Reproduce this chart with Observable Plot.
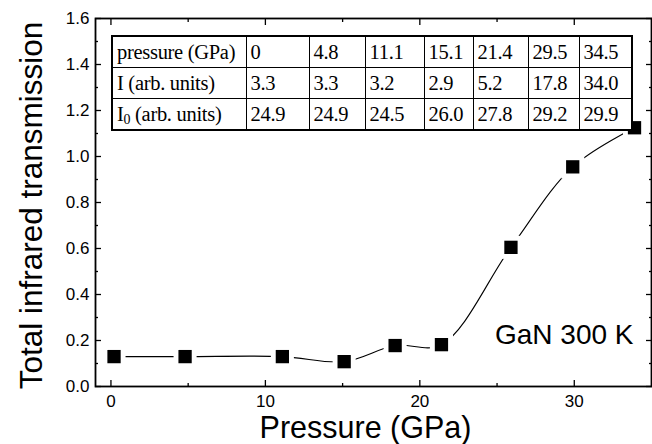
<!DOCTYPE html>
<html><head><meta charset="utf-8">
<script src="https://cdn.jsdelivr.net/npm/d3@7"></script>
<script src="https://cdn.jsdelivr.net/npm/@observablehq/plot@0.6"></script>
<style>
body{margin:0;background:#fff;}
#wrap{position:relative;width:652px;height:444px;overflow:hidden;}
#tbl{position:absolute;left:111px;top:35px;border-collapse:collapse;table-layout:fixed;width:522px;
  font-family:"Liberation Serif","Times New Roman",serif;font-size:20.5px;color:#000;background:#fff;border:2px solid #000;letter-spacing:-0.3px;}
#tbl td{border:1px solid #000;height:28px;padding:0 0 0 4px;line-height:30px;white-space:nowrap;overflow:hidden;}
#tbl sub{font-size:14px;vertical-align:-3px;line-height:0;}
</style></head><body><div id="wrap"></div>
<script>
// data
const pressure = [0.2, 4.8, 11.1, 15.1, 18.4, 21.4, 25.9, 29.9, 33.9];
const transmission = [0.13, 0.13, 0.13, 0.108, 0.178, 0.182, 0.605, 0.955, 1.125];
// inset table
const rowLabels = ["pressure (GPa)", "I (arb. units)", "I<sub>0</sub> (arb. units)"];
const tablePressure = ["0", "4.8", "11.1", "15.1", "21.4", "29.5", "34.5"];
const tableI = ["3.3", "3.3", "3.2", "2.9", "5.2", "17.8", "34.0"];
const tableI0 = ["24.9", "24.9", "24.5", "26.0", "27.8", "29.2", "29.9"];
// ticks
const xMajor = [0, 10, 20, 30];
const xMinor = [5, 15, 25];
const yMajor = [0, 0.2, 0.4, 0.6, 0.8, 1.0, 1.2, 1.4, 1.6];
const yMinor = [0.1, 0.3, 0.5, 0.7, 0.9, 1.1, 1.3, 1.5];
const xTitle = "Pressure (GPa)";
const yTitle = "Total infrared transmission";
const annotation = "GaN 300 K";

const points = pressure.map((p, i) => ({p, t: transmission[i]}));
const none = () => "";
const font = "Liberation Sans, Arial, Helvetica, sans-serif";

const chart = Plot.plot({
  width: 652, height: 444,
  marginLeft: 95, marginRight: 1, marginTop: 18, marginBottom: 58,
  style: {fontFamily: font, color: "#000", background: "transparent"},
  x: {domain: [-1, 35], label: null},
  y: {domain: [0, 1.6], label: null},
  marks: [
    Plot.axisX({anchor: "bottom", ticks: xMajor, tickSize: -6, tickPadding: 14, fontSize: 17, label: null, strokeWidth: 1.3}),
    Plot.axisX({anchor: "bottom", ticks: xMinor, tickSize: -3, tickFormat: none, label: null, strokeWidth: 1.3}),
    Plot.axisX({anchor: "top", ticks: xMajor, tickSize: -6, tickFormat: none, label: null, strokeWidth: 1.3}),
    Plot.axisX({anchor: "top", ticks: xMinor, tickSize: -3, tickFormat: none, label: null, strokeWidth: 1.3}),
    Plot.axisY({anchor: "left", ticks: yMajor, tickSize: -6, tickPadding: 12, fontSize: 17, tickFormat: d3.format(".1f"), label: null, strokeWidth: 1.3}),
    Plot.axisY({anchor: "left", ticks: yMinor, tickSize: -3, tickFormat: none, label: null, strokeWidth: 1.3}),
    Plot.axisY({anchor: "right", ticks: yMajor, tickSize: -6, tickFormat: none, label: null, strokeWidth: 1.3}),
    Plot.axisY({anchor: "right", ticks: yMinor, tickSize: -3, tickFormat: none, label: null, strokeWidth: 1.3}),
    Plot.frame({stroke: "#000", strokeWidth: 1.8}),
    Plot.line(points, {x: "p", y: "t", curve: "catmull-rom", stroke: "#000", strokeWidth: 1.1}),
    Plot.dot(points, {x: "p", y: "t", symbol: "square", r: 13, fill: "#fff", stroke: "none"}),
    Plot.dot(points, {x: "p", y: "t", symbol: "square", r: 7.5, fill: "#000", stroke: "none"}),
    Plot.text([annotation], {text: d => d, frameAnchor: "bottom-right", textAnchor: "end", lineAnchor: "bottom", dx: -18, dy: -43, fontSize: 28}),
    Plot.text([xTitle], {text: d => d, frameAnchor: "bottom", textAnchor: "middle", lineAnchor: "bottom", dx: -8, dy: 51, fontSize: 30.5}),
    Plot.text([yTitle], {text: d => d, frameAnchor: "left", textAnchor: "middle", rotate: -90, lineAnchor: "bottom", dx: -54, dy: 3, fontSize: 31.5})
  ]
});

const wrap = document.getElementById("wrap");
wrap.appendChild(chart);

const colWidths = [134, 63, 56, 59, 49, 55, 51, 53];
const table = document.createElement("table");
table.id = "tbl";
const cg = document.createElement("colgroup");
colWidths.forEach(w => { const c = document.createElement("col"); c.style.width = w + "px"; cg.appendChild(c); });
table.appendChild(cg);
[tablePressure, tableI, tableI0].forEach((row, r) => {
  const tr = document.createElement("tr");
  const th = document.createElement("td");
  th.innerHTML = rowLabels[r];
  tr.appendChild(th);
  row.forEach(v => { const td = document.createElement("td"); td.textContent = v; tr.appendChild(td); });
  table.appendChild(tr);
});
wrap.appendChild(table);
</script></body></html>
